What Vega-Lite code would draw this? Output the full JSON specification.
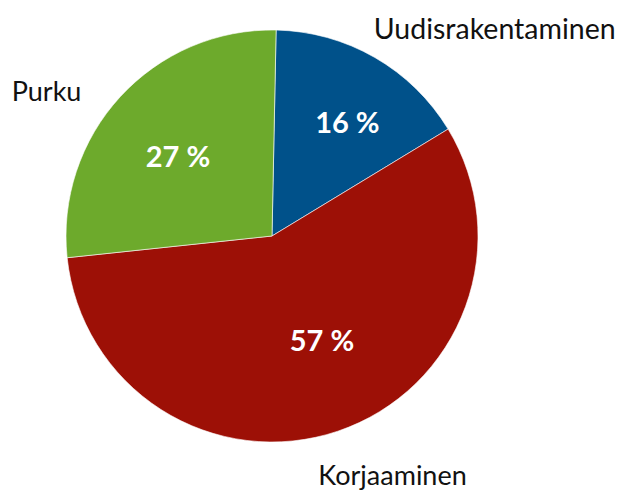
{
  "$schema": "https://vega.github.io/schema/vega-lite/v6.json",
  "width": 544,
  "height": 472,
  "padding": 0,
  "autosize": {"type": "pad"},
  "background": "white",
  "config": {"view": {"stroke": null}},
  "data": {"values": [
    {"i": 1, "cat": "Uudisrakentaminen", "value": 16, "label": "16 %"},
    {"i": 2, "cat": "Korjaaminen", "value": 57, "label": "57 %"},
    {"i": 3, "cat": "Purku", "value": 27, "label": "27 %"}
  ]},
  "encoding": {
    "theta": {"field": "value", "type": "quantitative", "stack": true, "scale": {"range": [0.02, 6.3032]}},
    "order": {"field": "i", "type": "quantitative"}
  },
  "layer": [
    {
      "mark": {"type": "arc", "outerRadius": 206, "stroke": "white", "strokeWidth": 0.6},
      "encoding": {
        "color": {"field": "cat", "type": "nominal", "legend": null,
          "scale": {"domain": ["Uudisrakentaminen", "Korjaaminen", "Purku"], "range": ["#00518A", "#9D1006", "#6DAA2C"]}}
      }
    },
    {
      "mark": {"type": "text", "radius": 125, "dx": 13, "dy": -4, "font": "Lato", "fontSize": 29, "fontWeight": "bold", "fill": "white", "align": "center", "baseline": "middle"},
      "encoding": {"text": {"condition": {"test": "datum.cat === 'Uudisrakentaminen'", "field": "label"}, "value": ""}}
    },
    {
      "mark": {"type": "text", "radius": 125, "dx": 10, "dy": -12, "font": "Lato", "fontSize": 29, "fontWeight": "bold", "fill": "white", "align": "center", "baseline": "middle"},
      "encoding": {"text": {"condition": {"test": "datum.cat === 'Korjaaminen'", "field": "label"}, "value": ""}}
    },
    {
      "mark": {"type": "text", "radius": 125, "dx": -2, "dy": 7, "font": "Lato", "fontSize": 29, "fontWeight": "bold", "fill": "white", "align": "center", "baseline": "middle"},
      "encoding": {"text": {"condition": {"test": "datum.cat === 'Purku'", "field": "label"}, "value": ""}}
    },
    {
      "mark": {"type": "text", "radius": 230, "dx": -13, "dy": -7, "font": "Lato", "fontSize": 28.5, "fill": "#111111", "align": "left", "baseline": "middle"},
      "encoding": {"text": {"condition": {"test": "datum.cat === 'Uudisrakentaminen'", "field": "cat"}, "value": ""}}
    },
    {
      "mark": {"type": "text", "radius": 230, "dx": 47, "dy": 23, "font": "Lato", "fontSize": 27, "fill": "#111111", "align": "center", "baseline": "middle"},
      "encoding": {"text": {"condition": {"test": "datum.cat === 'Korjaaminen'", "field": "cat"}, "value": ""}}
    },
    {
      "mark": {"type": "text", "radius": 230, "dx": -56, "dy": 13, "font": "Lato", "fontSize": 27, "fill": "#111111", "align": "center", "baseline": "middle"},
      "encoding": {"text": {"condition": {"test": "datum.cat === 'Purku'", "field": "cat"}, "value": ""}}
    }
  ]
}
